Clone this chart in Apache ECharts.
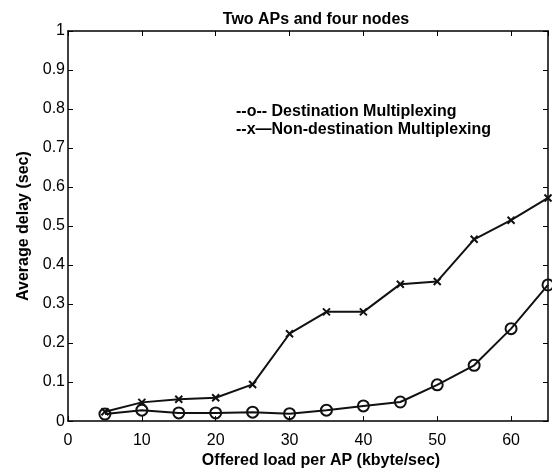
<!DOCTYPE html>
<html>
<head>
<meta charset="utf-8">
<script src="https://cdn.jsdelivr.net/npm/echarts@6/dist/echarts.min.js"></script>
<style>html,body{margin:0;padding:0;background:#fff;}#c{width:552px;height:474px;}</style>
</head>
<body>
<div id="c"></div>
<script>
const loads = [5, 10, 15, 20, 25, 30, 35, 40, 45, 50, 55, 60, 65];
const destMux = [0.018, 0.028, 0.021, 0.021, 0.023, 0.019, 0.028, 0.039, 0.049, 0.093, 0.143, 0.237, 0.349];
const nonDestMux = [0.024, 0.048, 0.056, 0.060, 0.094, 0.224, 0.280, 0.280, 0.351, 0.358, 0.466, 0.515, 0.572];
const seriesNames = ['--o-- Destination Multiplexing', '--x\u2014Non-destination Multiplexing'];
const titleText = 'Two APs and four nodes';
const xName = 'Offered load per AP (kbyte/sec)';
const yName = 'Average delay (sec)';

const FONT = 'Liberation Sans, Arial, sans-serif';
const chart = echarts.init(document.getElementById('c'), null, {renderer: 'canvas'});
const pair = (xs, ys) => xs.map((x, i) => [x, ys[i]]);
const tickStyle = () => ({show: true, inside: true, length: 5, lineStyle: {color: '#000', width: 1}});
const lineStyleAxis = () => ({show: true, onZero: false, lineStyle: {color: '#000', width: 1.5}});
chart.setOption({
  animation: false,
  backgroundColor: '#fff',
  title: {
    text: titleText, left: 311, top: 7, textAlign: 'center',
    textStyle: {fontFamily: FONT, fontSize: 16, fontWeight: 'bold', color: '#000'}
  },
  legend: {
    orient: 'vertical', left: 226, top: 99, icon: 'none', itemWidth: 0, itemHeight: 10, itemGap: 2,
    selectedMode: false,
    textStyle: {fontFamily: FONT, fontSize: 16, fontWeight: 'bold', color: '#000', padding: 0},
    data: seriesNames
  },
  grid: {left: 68, right: 4, top: 31, bottom: 49, containLabel: false},
  xAxis: [{
    type: 'value', min: 0, max: 65, interval: 10,
    name: xName, nameLocation: 'middle', nameGap: 31,
    nameTextStyle: {fontFamily: FONT, fontSize: 16, fontWeight: 'bold', color: '#000', padding: [0, 0, 0, 26]},
    axisLine: lineStyleAxis(),
    axisTick: tickStyle(),
    axisLabel: {fontFamily: FONT, fontSize: 16, color: '#000', margin: 11, showMaxLabel: false},
    splitLine: {show: false}
  }, {
    type: 'value', position: 'top', min: 0, max: 65, interval: 10,
    axisLine: lineStyleAxis(),
    axisTick: tickStyle(), axisLabel: {show: false}, splitLine: {show: false}
  }],
  yAxis: [{
    type: 'value', min: 0, max: 1, interval: 0.1,
    name: yName, nameLocation: 'middle', nameGap: 35,
    nameTextStyle: {fontFamily: FONT, fontSize: 16, fontWeight: 'bold', color: '#000'},
    axisLine: lineStyleAxis(),
    axisTick: tickStyle(),
    axisLabel: {fontFamily: FONT, fontSize: 16, color: '#000', margin: 3,
      formatter: v => String(Math.round(v * 10) / 10)},
    splitLine: {show: false}
  }, {
    type: 'value', position: 'right', min: 0, max: 1, interval: 0.1,
    axisLine: lineStyleAxis(),
    axisTick: tickStyle(), axisLabel: {show: false}, splitLine: {show: false}
  }],
  series: [{
    name: seriesNames[0], type: 'line', data: pair(loads, destMux),
    symbol: 'circle', symbolSize: 11, showAllSymbol: true,
    lineStyle: {color: '#111', width: 2},
    itemStyle: {color: 'rgba(0,0,0,0)', borderColor: '#111', borderWidth: 2},
    z: 3
  }, {
    name: seriesNames[1], type: 'line', data: pair(loads, nonDestMux),
    symbol: 'path://M0,0L10,10M10,0L0,10', symbolSize: 7, showAllSymbol: true,
    lineStyle: {color: '#111', width: 2},
    itemStyle: {color: 'rgba(0,0,0,0)', borderColor: '#111', borderWidth: 2},
    z: 3
  }]
});
</script>
</body>
</html>
